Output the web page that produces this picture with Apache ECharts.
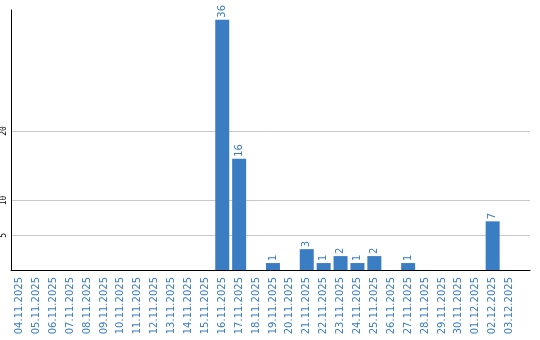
<!DOCTYPE html>
<html><head><meta charset="utf-8">
<script src="https://cdn.jsdelivr.net/npm/echarts@6/dist/echarts.min.js"></script>
<style>html,body{margin:0;padding:0;background:#fff}#c{width:540px;height:340px}</style>
</head><body><div id="c"></div>
<script>
const categories = ['04.11.2025','05.11.2025','06.11.2025','07.11.2025','08.11.2025','09.11.2025','10.11.2025','11.11.2025','12.11.2025','13.11.2025','14.11.2025','15.11.2025','16.11.2025','17.11.2025','18.11.2025','19.11.2025','20.11.2025','21.11.2025','22.11.2025','23.11.2025','24.11.2025','25.11.2025','26.11.2025','27.11.2025','28.11.2025','29.11.2025','30.11.2025','01.12.2025','02.12.2025','03.12.2025'];
const values = [0,0,0,0,0,0,0,0,0,0,0,0,36,16,0,1,0,3,1,2,1,2,0,1,0,0,0,0,7,0];
const yTicks = [5,10,20];

const chart = echarts.init(document.getElementById('c'));
const blue = '#3a7dc2';
const idx = categories.map((c, i) => i);
chart.setOption({
  animation: false,
  grid: {left: 11, right: 10, top: 10, bottom: 70, containLabel: false},
  xAxis: {
    type: 'value', min: -0.5, max: 30.21,
    axisLine: {show: true, onZero: false, lineStyle: {color: '#000', width: 1}},
    axisTick: {show: false, customValues: idx},
    splitLine: {show: false},
    axisLabel: {customValues: idx, rotate: 90, color: blue, fontFamily: 'DejaVu Sans', fontSize: 10, margin: 7,
      formatter: v => categories[Math.round(v)] || ''}
  },
  yAxis: {
    type: 'value', min: 0, max: 37.4,
    axisLine: {show: true, onZero: false, lineStyle: {color: '#000', width: 1}},
    axisTick: {show: false, customValues: yTicks},
    axisLabel: {customValues: yTicks, rotate: 90, color: '#000', fontFamily: 'DejaVu Sans Mono', fontSize: 8, margin: 3},
    splitLine: {show: true, lineStyle: {color: '#c8c8c8', width: 1}}
  },
  series: [{
    type: 'bar', data: values.map((v, i) => [i, v]), barWidth: 14,
    itemStyle: {color: blue},
    label: {show: true, position: 'top', rotate: 90, align: 'left', verticalAlign: 'middle', distance: 2,
      color: blue, fontFamily: 'DejaVu Sans', fontSize: 10,
      formatter: p => p.value[1] ? String(p.value[1]) : ''}
  }]
});
</script></body></html>
